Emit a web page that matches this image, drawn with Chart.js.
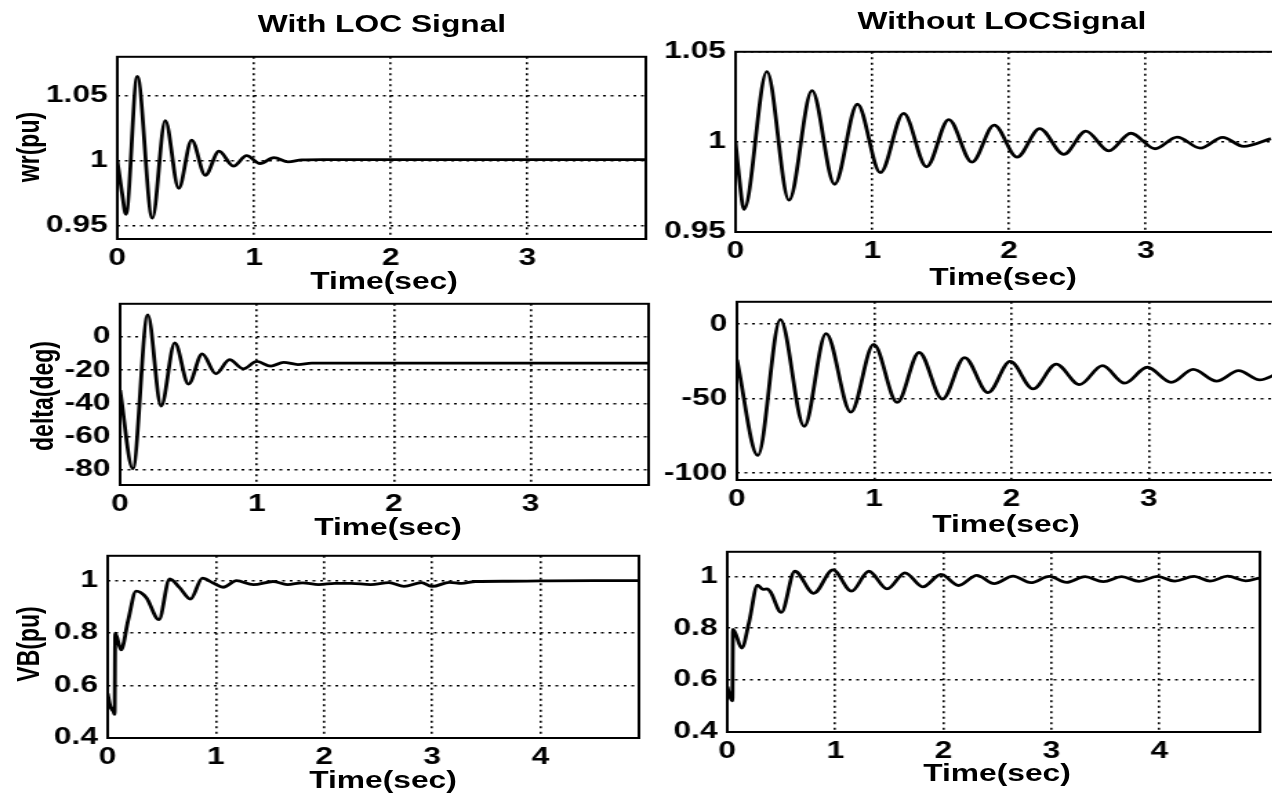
<!DOCTYPE html>
<html>
<head>
<meta charset="utf-8">
<script src="https://cdn.jsdelivr.net/npm/chart.js@4.4.0/dist/chart.umd.min.js"></script>
<style>
html, body { margin: 0; padding: 0; background: #fff; overflow: hidden; width: 1272px; height: 793px; }
#fig { position: absolute; left: 0; top: 0; width: 922px; height: 793px; transform: scaleX(1.38); transform-origin: 0 0; }
#fig canvas { position: absolute; }
.lbl { position: absolute; font: bold 23px "Liberation Sans", Arial, sans-serif; line-height: 1; white-space: nowrap; color: #000; transform: translate(-50%, -50%); }
.rot { transform: translate(-50%, -50%) rotate(-90deg); }
</style>
</head>
<body>
<div id="fig"></div>
<script>
// scanned figure is stretched sideways, so everything is drawn narrow and scaled
const S = 1.38;

// tick labels
const xTicks4 = [0, 1, 2, 3];
const xTicks5 = [0, 1, 2, 3, 4];
const wrTicks = [0.95, 1, 1.05];
const deltaLocTicks = [-80, -60, -40, -20, 0];
const deltaNoTicks = [-100, -50, 0];
const vbTicks = [0.4, 0.6, 0.8, 1];

// wr(pu) with LOC signal
const wrLocT = [0, 0.01, 0.035, 0.063, 0.146, 0.256, 0.351, 0.449, 0.544, 0.644, 0.744, 0.849, 0.946, 1.044, 1.146, 1.25, 1.35, 1.5, 2.0, 3.0, 3.867];
const wrLocV = [1.0, 0.993, 0.975, 0.959, 1.065, 0.956, 1.031, 0.979, 1.016, 0.989, 1.0075, 0.996, 1.004, 0.998, 1.0025, 0.9993, 1.0008, 1.001, 1.001, 1.001, 1.001];

// wr(pu) without LOC signal
const wrNoT = [0, 0.02, 0.062, 0.229, 0.391, 0.559, 0.724, 0.891, 1.059, 1.229, 1.397, 1.559, 1.729, 1.891, 2.059, 2.224, 2.4, 2.562, 2.729, 2.891, 3.068, 3.229, 3.4, 3.562, 3.715, 3.915];
const wrNoV = [1.0, 0.985, 0.9626, 1.039, 0.9677, 1.0284, 0.9765, 1.0209, 0.9829, 1.0158, 0.9862, 1.0124, 0.9888, 1.0093, 0.9916, 1.0074, 0.9931, 1.006, 0.995, 1.0048, 0.9962, 1.0027, 0.9965, 1.0025, 0.9975, 1.0018];

// delta(deg) with LOC signal
const deltaLocT = [0, 0.093, 0.202, 0.30, 0.40, 0.50, 0.60, 0.70, 0.80, 0.90, 1.0, 1.10, 1.195, 1.30, 1.4, 1.6, 2.0, 3.0, 3.862];
const deltaLocV = [-32, -79.4, 13.3, -41.6, -3.5, -28.4, -10.2, -22.2, -13.7, -19.2, -14.7, -17.6, -15.3, -16.6, -15.8, -15.8, -15.8, -15.8, -15.8];

// delta(deg) without LOC signal
const deltaNoT = [0, 0.152, 0.316, 0.49, 0.649, 0.83, 0.996, 1.167, 1.327, 1.497, 1.658, 1.829, 1.99, 2.157, 2.325, 2.495, 2.662, 2.824, 2.988, 3.164, 3.323, 3.493, 3.654, 3.807, 3.94];
const deltaNoV = [-23.8, -88, 3.1, -68.5, -6.3, -59, -13.6, -52.5, -19, -50.2, -22.4, -45.9, -25, -43.4, -26.8, -40.6, -27.8, -39.6, -28.9, -39, -30.3, -38.2, -31.2, -37.4, -33];

// VB(pu) with LOC signal
const vbLocT = [0, 0.025, 0.055, 0.064, 0.07, 0.124, 0.19, 0.263, 0.356, 0.474, 0.573, 0.666, 0.765, 0.876, 0.975, 1.068, 1.19, 1.347, 1.53, 1.66, 1.8, 1.95, 2.1, 2.25, 2.43, 2.6, 2.74, 2.9, 3.0, 3.16, 3.27, 3.4, 3.7, 4.0, 4.5, 4.9];
const vbLocV = [0.57, 0.52, 0.50, 0.49, 0.80, 0.736, 0.85, 0.96, 0.936, 0.852, 1.007, 0.973, 0.930, 1.01, 0.991, 0.975, 1.0, 0.985, 0.997, 0.985, 0.992, 0.985, 0.99, 0.99, 0.985, 0.993, 0.978, 0.993, 0.978, 0.994, 0.99, 0.997, 0.998, 0.999, 1.0, 1.0];

// VB(pu) without LOC signal
const vbNoT = [0, 0.022, 0.047, 0.053, 0.134, 0.2, 0.28, 0.33, 0.37, 0.4, 0.5, 0.625, 0.8, 0.978, 1.15, 1.31, 1.48, 1.645, 1.81, 1.978, 2.14, 2.31, 2.47, 2.645, 2.81, 2.98, 3.14, 3.31, 3.48, 3.65, 3.81, 3.98, 4.14, 4.32, 4.47, 4.63, 4.8, 4.93];
const vbNoV = [0.575, 0.54, 0.52, 0.796, 0.724, 0.82, 0.966, 0.95, 0.952, 0.94, 0.861, 1.02, 0.935, 1.025, 0.943, 1.02, 0.952, 1.014, 0.96, 1.008, 0.965, 1.004, 0.972, 1.001, 0.976, 1.0, 0.977, 0.999, 0.98, 0.999, 0.981, 1.0, 0.982, 1.0, 0.982, 1.001, 0.983, 0.995];

// plot boxes in page pixels
const panels = [
    { t: wrLocT, v: wrLocV, xt: xTicks4, yt: wrTicks, xmax: 3.867, ymin: 0.94, ymax: 1.08, box: [117.3, 51.7, 646, 238.3] },
    { t: wrNoT, v: wrNoV, xt: xTicks4, yt: wrTicks, xmax: 3.966, ymin: 0.95, ymax: 1.05, box: [735.5, 46.7, 1278, 231.7] },
    { t: deltaLocT, v: deltaLocV, xt: xTicks4, yt: deltaLocTicks, xmax: 3.862, ymin: -89.2, ymax: 20, box: [120, 299.3, 648, 485] },
    { t: deltaNoT, v: deltaNoV, xt: xTicks4, yt: deltaNoTicks, xmax: 3.94, ymin: -104.5, ymax: 15, box: [736.7, 296.7, 1278, 480] },
    { t: vbLocT, v: vbLocV, xt: xTicks5, yt: vbTicks, xmax: 4.91, ymin: 0.4, ymax: 1.095, box: [108.3, 550.7, 640, 738] },
    { t: vbNoT, v: vbNoV, xt: xTicks5, yt: vbTicks, xmax: 4.93, ymin: 0.4, ymax: 1.095, box: [726.7, 547.3, 1258.7, 732.7] }
];

const labels = [
    { text: 'With LOC Signal', x: 382, y: 23.5 },
    { text: 'Without LOCSignal', x: 1002, y: 21 },
    { text: 'Time(sec)', x: 384, y: 281 },
    { text: 'Time(sec)', x: 1003, y: 277 },
    { text: 'Time(sec)', x: 388, y: 527 },
    { text: 'Time(sec)', x: 1006, y: 524 },
    { text: 'Time(sec)', x: 383, y: 780 },
    { text: 'Time(sec)', x: 997, y: 773 },
    { text: 'wr(pu)', x: 29.5, y: 147, rot: true },
    { text: 'delta(deg)', x: 43, y: 396, rot: true },
    { text: 'VB(pu)', x: 29.5, y: 644, rot: true }
];

Chart.defaults.font.family = '"Liberation Sans", Arial, sans-serif';
Chart.defaults.font.size = 23;
Chart.defaults.font.weight = 'bold';
Chart.defaults.color = '#000';

const boxPlugin = {
    id: 'box',
    afterDraw(c) {
        const a = c.chartArea, ctx = c.ctx;
        ctx.save();
        ctx.strokeStyle = '#000';
        ctx.lineWidth = 2;
        ctx.strokeRect(a.left, a.top, a.right - a.left, a.bottom - a.top);
        ctx.restore();
    }
};

const fig = document.getElementById('fig');
const PT = 16, PR = 16, YW = 62, XH = 36;

function makePanel(p) {
    const [l, t, r, b] = p.box;
    const cv = document.createElement('canvas');
    const w = (r - l) / S + YW + PR;
    const h = b - t + PT + XH;
    cv.width = Math.round(w);
    cv.height = Math.round(h);
    cv.style.left = (l / S - YW) + 'px';
    cv.style.top = (t - PT) + 'px';
    fig.appendChild(cv);

    const gridOpts = { color: '#000', lineWidth: 1.6, drawTicks: false };
    const borderOpts = { display: false, dash: [2, 3.5] };

    new Chart(cv.getContext('2d'), {
        type: 'line',
        data: {
            datasets: [{
                data: p.t.map((x, i) => ({ x: x, y: p.v[i] })),
                borderColor: '#000',
                borderWidth: 2.8,
                pointRadius: 0,
                fill: false,
                cubicInterpolationMode: 'monotone'
            }]
        },
        options: {
            responsive: false,
            animation: false,
            devicePixelRatio: 1,
            layout: { padding: { top: PT, right: PR, left: 0, bottom: 0 } },
            plugins: { legend: { display: false }, tooltip: { enabled: false } },
            scales: {
                x: {
                    type: 'linear', min: 0, max: p.xmax,
                    afterBuildTicks: s => { s.ticks = p.xt.map(v => ({ value: v })); },
                    afterFit: s => { s.height = XH; },
                    grid: gridOpts, border: borderOpts,
                    ticks: { padding: 6, maxRotation: 0, autoSkip: false, callback: v => String(v) }
                },
                y: {
                    min: p.ymin, max: p.ymax,
                    afterBuildTicks: s => { s.ticks = p.yt.map(v => ({ value: v })); },
                    afterFit: s => { s.width = YW; },
                    grid: gridOpts, border: borderOpts,
                    ticks: { padding: 7, autoSkip: false, callback: v => String(v) }
                }
            }
        },
        plugins: [boxPlugin]
    });
}

panels.forEach(makePanel);

labels.forEach(d => {
    const el = document.createElement('div');
    el.className = d.rot ? 'lbl rot' : 'lbl';
    el.textContent = d.text;
    el.style.left = (d.x / S) + 'px';
    el.style.top = d.y + 'px';
    fig.appendChild(el);
});
</script>
</body>
</html>
